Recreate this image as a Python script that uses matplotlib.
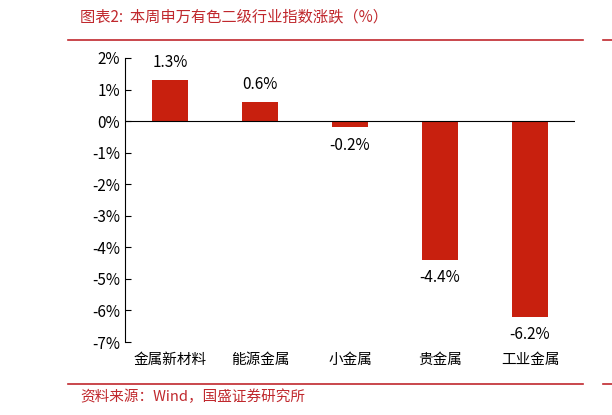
import matplotlib
matplotlib.use("Agg")
import matplotlib.pyplot as plt
from matplotlib.lines import Line2D

plt.rcParams['font.family'] = ['Noto Sans CJK SC', 'DejaVu Sans']

categories = ["金属新材料", "能源金属", "小金属", "贵金属", "工业金属"]
values = [1.3, 0.6, -0.2, -4.4, -6.2]
yticks = [2, 1, 0, -1, -2, -3, -4, -5, -6, -7]

W, H = 612, 415
fig = plt.figure(figsize=(W/100, H/100), dpi=100)
ax = fig.add_axes([125/W, 1-342/H, (575-125)/W, (342-58)/H])
x = range(len(categories))
ax.bar(x, values, width=0.4, color='#C8200E')
ax.set_ylim(-7, 2)
ax.set_xlim(-0.5, 4.5)
ax.set_yticks(yticks)
ax.set_yticklabels([f"{v}%" for v in yticks], fontsize=11)
ax.set_xticks(list(x))
ax.set_xticklabels(categories, fontsize=10.5)
ax.tick_params(axis='x', length=0, pad=8)
ax.tick_params(axis='y', direction='in', length=4)
for s in ['top', 'right', 'bottom']:
    ax.spines[s].set_visible(False)
ax.axhline(0, color='black', lw=0.8)
for i, v in zip(x, values):
    off = 0.3 if v >= 0 else -0.3
    ax.text(i, v + off, f"{v:.1f}%", ha='center', va='bottom' if v >= 0 else 'top', fontsize=11)

red = '#C0282D'
fig.text(80/W, 1-17/H, "图表2:  本周申万有色二级行业指数涨跌（%）", color=red, fontsize=11, style='italic', va='center')
fig.add_artist(Line2D([68/W, 583/W], [1-40/H, 1-40/H], color=red, lw=1.2))
fig.add_artist(Line2D([603/W, 612/W], [1-40/H, 1-40/H], color=red, lw=1.2))
fig.add_artist(Line2D([68/W, 583/W], [1-384/H, 1-384/H], color=red, lw=1.2))
fig.add_artist(Line2D([603/W, 612/W], [1-384/H, 1-384/H], color=red, lw=1.2))
fig.text(80/W, 1-397/H, "资料来源：Wind，国盛证券研究所", color=red, fontsize=10.5, style='italic', va='center')
fig.savefig("out.png", dpi=100)
